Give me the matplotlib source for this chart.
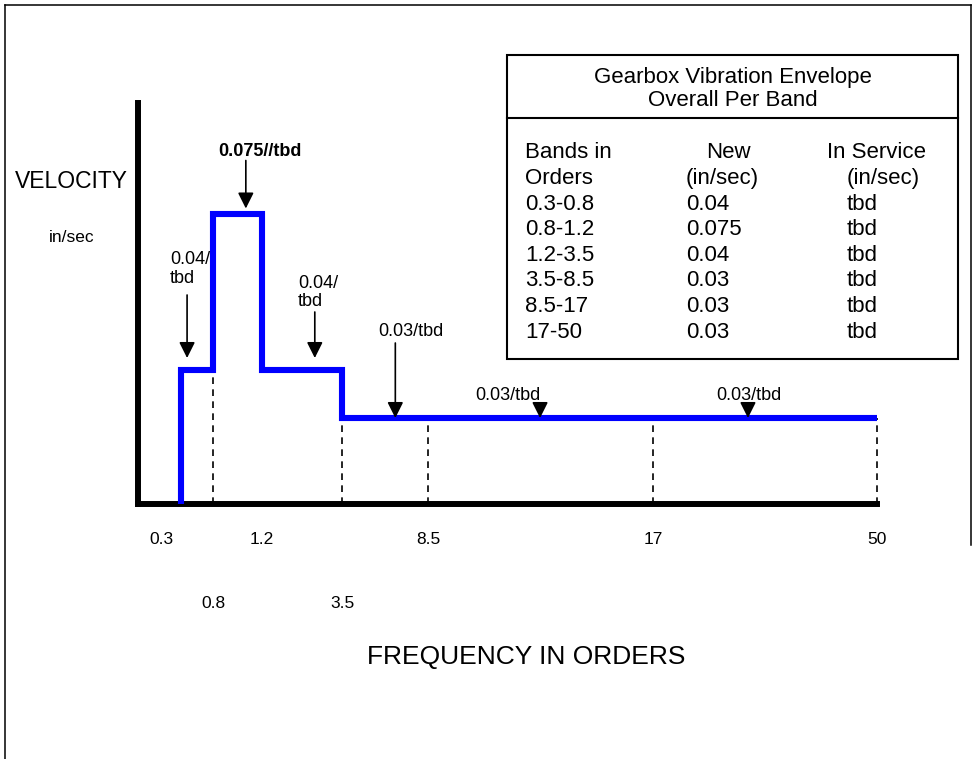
import numpy as np
import matplotlib
matplotlib.use('Agg')
import matplotlib.pyplot as plt
from matplotlib.patches import Rectangle
from matplotlib.lines import Line2D

plt.rcParams['font.family'] = ['Liberation Sans', 'DejaVu Sans']

# band table
bands = ['0.3-0.8', '0.8-1.2', '1.2-3.5', '3.5-8.5', '8.5-17', '17-50']
new_vals = [0.04, 0.075, 0.04, 0.03, 0.03, 0.03]
new_txt = ['0.04', '0.075', '0.04', '0.03', '0.03', '0.03']
service = ['tbd', 'tbd', 'tbd', 'tbd', 'tbd', 'tbd']
edges = [0.3, 0.8, 1.2, 3.5, 8.5, 17, 50]

tick_row1 = [0.3, 1.2, 8.5, 17, 50]
tick_row2 = [0.8, 3.5]
dashed_at = [0.8, 3.5, 8.5, 17, 50]
ann_txt = ['0.04/\ntbd', '0.075//tbd', '0.04/\ntbd', '0.03/tbd', '0.03/tbd', '0.03/tbd']

W, H = 976, 759
PT = 0.72  # pixels -> points


def fx(px):
    return px / W


def fy(py):
    return 1 - py / H


# schematic (not to scale) axes: piecewise linear scales
x_anchor = [0] + edges
x_disp = [0, 43, 75, 124, 204, 290, 515, 739]
y_anchor = [0, 0.03, 0.04, 0.075, 0.1]
y_disp = [0, 85.5, 133.5, 290, 400.5]


def fwd_x(v):
    return np.interp(v, x_anchor, x_disp)


def inv_x(v):
    return np.interp(v, x_disp, x_anchor)


def fwd_y(v):
    return np.interp(v, y_anchor, y_disp)


def inv_y(v):
    return np.interp(v, y_disp, y_anchor)


fig = plt.figure(figsize=(W / 100, H / 100), dpi=100)
ax = fig.add_axes([fx(138), fy(503.5), (877 - 138) / W, (503.5 - 103) / H])
ax.set_xscale('function', functions=(fwd_x, inv_x))
ax.set_yscale('function', functions=(fwd_y, inv_y))
ax.set_xlim(0, 50)
ax.set_ylim(0, 0.1)
ax.tick_params(which='both', length=0, labelbottom=False, labelleft=False)
for s in ['top', 'right']:
    ax.spines[s].set_visible(False)
for s in ['left', 'bottom']:
    ax.spines[s].set_linewidth(4.3)
    ax.spines[s].set_color('black')
ax.patch.set_visible(False)

# envelope
xs = [edges[0]]
ys = [0]
for i, v in enumerate(new_vals):
    xs += [edges[i], edges[i + 1]]
    ys += [v, v]
ax.plot(xs, ys, color='#0000ff', lw=4.4, solid_joinstyle='miter',
        solid_capstyle='butt', clip_on=False, zorder=3)

# dashed band dividers
for e in dashed_at:
    i = edges.index(e)
    adj = [new_vals[i - 1]] + ([new_vals[i]] if i < len(new_vals) else [])
    ax.plot([e, e], [0, min(adj)], color='black', lw=1.2, dashes=(4, 3.2),
            clip_on=False, zorder=2)

# tick labels (two staggered rows)
for e in tick_row1:
    dx = -20 if e == edges[0] else 0
    ax.annotate(str(e), xy=(e, 0), xycoords=('data', 'axes fraction'),
                xytext=(dx * PT, -36 * PT), textcoords='offset points',
                ha='center', va='center', fontsize=12.5, annotation_clip=False)
for e in tick_row2:
    ax.annotate(str(e), xy=(e, 0), xycoords=('data', 'axes fraction'),
                xytext=(0, -100 * PT), textcoords='offset points',
                ha='center', va='center', fontsize=12.5, annotation_clip=False)

# arrows: band, frac in band, tip gap, arrow start, text dx, text dy, ha (pixels)
ann_layout = [
    (0, 0.19, 12, 75, -17, 101, 'left'),
    (1, 0.67, 5, 53, -28, 61.5, 'left'),
    (2, 0.66, 12, 58, -17, 77.5, 'left'),
    (3, 0.62, 0, 75, 16, 86, 'center'),
    (4, 0.498, 0, 11, -32, 23, 'center'),
    (5, 0.424, 0, 11, 1, 23, 'center'),
]
for txt, (b, f, gap, start, tdx, tdy, ha) in zip(ann_txt, ann_layout):
    xa = edges[b] + f * (edges[b + 1] - edges[b])
    lvl = new_vals[b]
    ax.annotate('', xy=(xa, lvl), xytext=(0, start * PT), textcoords='offset points',
                arrowprops=dict(arrowstyle='-|>,head_length=0.6,head_width=0.3',
                                mutation_scale=16, color='black', lw=1.2,
                                shrinkA=0, shrinkB=gap * PT),
                annotation_clip=False, zorder=4)
    ax.annotate(txt, xy=(xa, lvl), xytext=(tdx * PT, tdy * PT), textcoords='offset points',
                ha=ha, va='center', fontsize=13, linespacing=1.12,
                fontweight='bold' if b == 1 else 'normal', annotation_clip=False)

# axis titles
fig.text(fx(15), fy(182), 'VELOCITY', ha='left', va='center', fontsize=16.5)
fig.text(fx(72), fy(238), 'in/sec', ha='center', va='center', fontsize=12.5)
fig.text(fx(526), fy(657), 'FREQUENCY IN ORDERS', ha='center', va='center', fontsize=19)

# outer frame
fig.add_artist(Line2D([fx(5), fx(5)], [fy(5), 0], color='black', lw=1.1))
fig.add_artist(Line2D([fx(5), fx(971)], [fy(5), fy(5)], color='black', lw=1.1))
fig.add_artist(Line2D([fx(971), fx(971)], [fy(5), fy(545)], color='black', lw=1.1))

# table box
fig.add_artist(Rectangle((fx(507), fy(359)), (958 - 507) / W, (359 - 55) / H,
                         transform=fig.transFigure, fill=False, ec='black', lw=1.5))
fig.add_artist(Line2D([fx(507), fx(958)], [fy(118), fy(118)], color='black', lw=1.5))
fig.text(fx(733), fy(77), 'Gearbox Vibration Envelope', ha='center', va='center', fontsize=16)
fig.text(fx(733), fy(101), 'Overall Per Band', ha='center', va='center', fontsize=16)

row0 = 153
step = 25.6
fig.text(fx(525), fy(row0), 'Bands in', ha='left', va='center', fontsize=16)
fig.text(fx(525), fy(row0 + step), 'Orders', ha='left', va='center', fontsize=16)
fig.text(fx(706), fy(row0), 'New', ha='left', va='center', fontsize=16)
fig.text(fx(686), fy(row0 + step), '(in/sec)', ha='left', va='center', fontsize=16)
fig.text(fx(827), fy(row0), 'In Service', ha='left', va='center', fontsize=16)
fig.text(fx(847), fy(row0 + step), '(in/sec)', ha='left', va='center', fontsize=16)
for i in range(len(bands)):
    yy = row0 + step * (i + 2)
    fig.text(fx(525), fy(yy), bands[i], ha='left', va='center', fontsize=16)
    fig.text(fx(686), fy(yy), new_txt[i], ha='left', va='center', fontsize=16)
    fig.text(fx(847), fy(yy), service[i], ha='left', va='center', fontsize=16)

fig.savefig('out.png', dpi=100)
